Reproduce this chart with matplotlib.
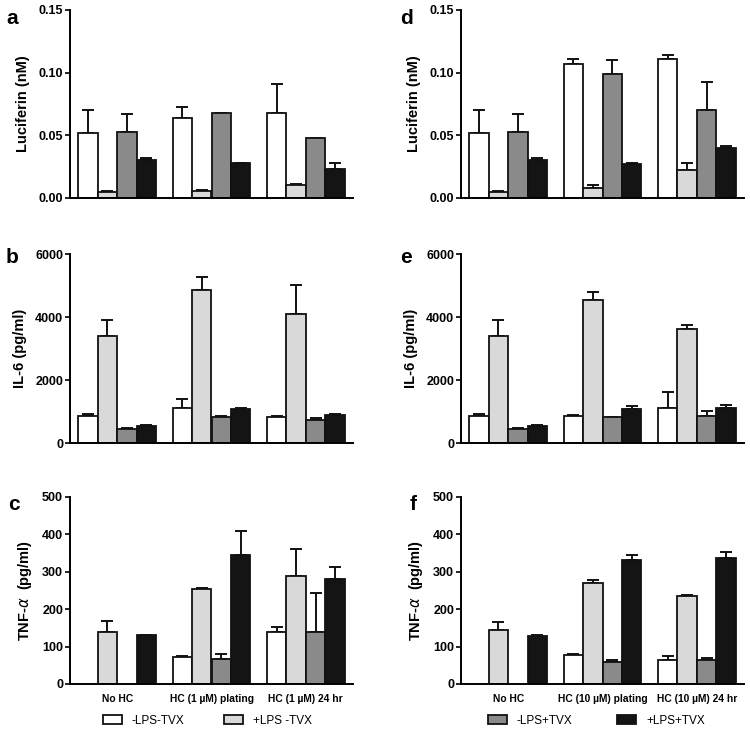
import numpy as np
import matplotlib
matplotlib.use("Agg")
import matplotlib.pyplot as plt
from matplotlib.patches import Patch

plt.rcParams['font.family'] = ['Liberation Sans', 'DejaVu Sans']

# groups and series
groups_1 = ['No HC', 'HC (1 µM) plating', 'HC (1 µM) 24 hr']
groups_10 = ['No HC', 'HC (10 µM) plating', 'HC (10 µM) 24 hr']
series = ['-LPS-TVX', '+LPS -TVX', '-LPS+TVX', '+LPS+TVX']
colors = ['white', '#d9d9d9', '#8a8a8a', '#141414']

# Luciferin (nM), 1 uM HC  -- rows = series, cols = groups
luc_1 = [[0.052, 0.064, 0.068],
         [0.0048, 0.0056, 0.0101],
         [0.053, 0.068, 0.0475],
         [0.0303, 0.0276, 0.0234]]
luc_1_err = [[0.018, 0.0088, 0.023],
             [0.001, 0.0005, 0.0008],
             [0.014, 0.0, 0.0005],
             [0.002, 0.0005, 0.0047]]

# Luciferin (nM), 10 uM HC
luc_10 = [[0.052, 0.1072, 0.1113],
          [0.0048, 0.008, 0.022],
          [0.053, 0.0993, 0.0701],
          [0.0303, 0.0271, 0.0396]]
luc_10_err = [[0.018, 0.004, 0.003],
              [0.001, 0.0026, 0.0059],
              [0.014, 0.0107, 0.0226],
              [0.002, 0.0005, 0.0018]]

# IL-6 (pg/ml)
il6_1 = [[860, 1115, 828],
         [3397, 4851, 4108],
         [435, 828, 722],
         [531, 1072, 881]]
il6_1_err = [[70, 275, 32],
             [510, 414, 903],
             [43, 42, 74],
             [42, 32, 53]]
il6_10 = [[860, 866, 1109],
          [3397, 4542, 3623],
          [435, 813, 845],
          [531, 1088, 1109]]
il6_10_err = [[70, 32, 497],
              [510, 254, 127],
              [43, 21, 158],
              [42, 84, 95]]

# TNF-alpha (pg/ml); nan = not shown
tnf_1 = [[np.nan, 72, 139],
         [139, 254, 288],
         [np.nan, 67.5, 139],
         [130, 345, 281.5]]
tnf_1_err = [[np.nan, 3.5, 13],
             [29, 3, 73],
             [np.nan, 13.5, 103],
             [1.5, 63, 31.5]]
tnf_10 = [[np.nan, 77, 63],
          [144, 269, 236],
          [np.nan, 58, 63],
          [129, 331, 338]]
tnf_10_err = [[np.nan, 4, 13],
              [23, 10, 3],
              [np.nan, 7, 7],
              [2, 13, 16]]

fig = plt.figure(figsize=(7.5, 7.29), dpi=100)

left_x, right_x, ax_w = 70 / 750, 461 / 750, 283 / 750
rows = [(10, 198), (254, 443), (497, 684)]


def make_ax(x0, r):
    top, bot = r
    return fig.add_axes([x0, 1 - bot / 729, ax_w, (bot - top) / 729])


def draw(ax, vals, errs, ymax, yticks, ylabel, fmt, xlabels=None):
    x = np.arange(3)
    w = 0.205
    for i in range(4):
        pos = x + (i - 1.5) * w
        v = np.array(vals[i], dtype=float)
        e = np.array(errs[i], dtype=float)
        ax.errorbar(pos, v, yerr=[np.zeros_like(e), e], fmt='none',
                    ecolor='#111111', elinewidth=1.4, capsize=4, capthick=1.4, zorder=1)
        ax.bar(pos, v, w, color=colors[i], edgecolor='#111111', linewidth=1.3, zorder=2)
    ax.set_xlim(-0.5, 2.5)
    ax.set_ylim(0, ymax)
    ax.set_yticks(yticks)
    ax.set_yticklabels([fmt.format(t) for t in yticks], fontsize=9, fontweight='bold')
    ax.set_ylabel(ylabel, fontsize=10.5, fontweight='bold', labelpad=6)
    for s in ['top', 'right']:
        ax.spines[s].set_visible(False)
    for s in ['left', 'bottom']:
        ax.spines[s].set_linewidth(1.4)
    ax.tick_params(axis='y', length=3.5, width=1.2, pad=1.5)
    ax.tick_params(axis='x', length=0, pad=7)
    if xlabels:
        ax.set_xticks(x)
        ax.set_xticklabels(xlabels, fontsize=7.4, fontweight='bold')
    else:
        ax.set_xticks([])


ax_a = make_ax(left_x, rows[0])
draw(ax_a, luc_1, luc_1_err, 0.15, [0, 0.05, 0.10, 0.15], 'Luciferin (nM)', '{:.2f}')
ax_b = make_ax(left_x, rows[1])
draw(ax_b, il6_1, il6_1_err, 6000, [0, 2000, 4000, 6000], 'IL-6 (pg/ml)', '{:.0f}')
ax_c = make_ax(left_x, rows[2])
draw(ax_c, tnf_1, tnf_1_err, 500, [0, 100, 200, 300, 400, 500], r'TNF-$\alpha$  (pg/ml)', '{:.0f}', groups_1)

ax_d = make_ax(right_x, rows[0])
draw(ax_d, luc_10, luc_10_err, 0.15, [0, 0.05, 0.10, 0.15], 'Luciferin (nM)', '{:.2f}')
ax_e = make_ax(right_x, rows[1])
draw(ax_e, il6_10, il6_10_err, 6000, [0, 2000, 4000, 6000], 'IL-6 (pg/ml)', '{:.0f}')
ax_f = make_ax(right_x, rows[2])
draw(ax_f, tnf_10, tnf_10_err, 500, [0, 100, 200, 300, 400, 500], r'TNF-$\alpha$  (pg/ml)', '{:.0f}', groups_10)

# panel letters
letters = [('a', 6, 18), ('b', 6, 258), ('c', 8, 505), ('d', 400, 18), ('e', 400, 258), ('f', 410, 505)]
for t, px, py in letters:
    fig.text(px / 750, 1 - py / 729, t, fontsize=15, fontweight='bold', va='center', ha='left')

# legends
h = [Patch(facecolor=colors[i], edgecolor='#111111', linewidth=1.3, label=series[i]) for i in range(4)]
fig.legend(handles=h[:2], loc='center left', bbox_to_anchor=(92 / 750, 1 - 721 / 729),
           ncol=2, frameon=False, fontsize=8.5, handlelength=1.6, handleheight=0.8,
           columnspacing=3.4, handletextpad=0.85)
fig.legend(handles=h[2:], loc='center left', bbox_to_anchor=(477 / 750, 1 - 721 / 729),
           ncol=2, frameon=False, fontsize=8.5, handlelength=1.6, handleheight=0.8,
           columnspacing=3.8, handletextpad=0.85)

fig.savefig('out.png', dpi=100)
